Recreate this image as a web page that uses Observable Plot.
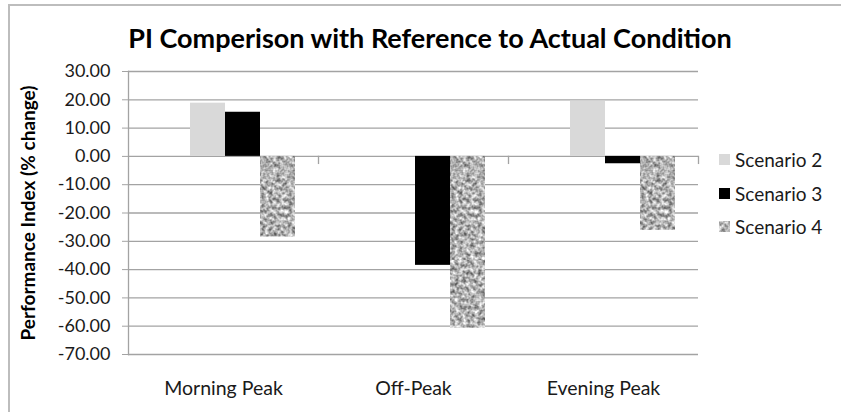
<!DOCTYPE html>
<html><head><meta charset="utf-8">
<script src="https://cdn.jsdelivr.net/npm/d3@7"></script>
<script src="https://cdn.jsdelivr.net/npm/@observablehq/plot@0.6"></script>
<style>
body{margin:0;background:#fff;font-family:Lato,sans-serif;}
#wrap{position:relative;width:841px;height:412px;overflow:hidden;background:#fff;}
#border{position:absolute;left:8px;top:4px;width:900px;height:500px;border-left:2px solid #bdbdbd;border-top:2px solid #bdbdbd;}
#title{position:absolute;left:0;top:22px;width:860px;text-align:center;font:bold 27px/32px Lato,sans-serif;color:#000;}
#chart{position:absolute;left:0;top:60px;}
#legend{position:absolute;left:719px;top:143px;font:19px Lato,sans-serif;color:#1a1a1a;}
.row{height:33.5px;display:flex;align-items:center;}
.row svg{margin-right:5px;}
</style>
</head><body>
<svg width="0" height="0" style="position:absolute">
  <defs>
    <filter id="noiseF" color-interpolation-filters="sRGB" x="0" y="0" width="100%" height="100%">
      <feTurbulence type="fractalNoise" baseFrequency="0.26" numOctaves="2" seed="7"/>
      <feColorMatrix type="matrix" values="1.05 0 0 0 0.17  1.05 0 0 0 0.17  1.05 0 0 0 0.17  0 0 0 0 1"/>
    </filter>
    <pattern id="tex" patternUnits="userSpaceOnUse" width="200" height="200">
      <rect width="200" height="200" filter="url(#noiseF)"/>
    </pattern>
  </defs>
</svg>
<div id="wrap">
  <div id="border"></div>
  <div id="title">PI Comperison with Reference to Actual Condition</div>
  <div id="chart"></div>
  <div id="legend"></div>
</div>
<script>
const categories = ["Morning Peak", "Off-Peak", "Evening Peak"];
const series = ["Scenario 2", "Scenario 3", "Scenario 4"];
const scenario2 = [18.8, 0, 19.4];
const scenario3 = [15.6, -38.5, -2.6];
const scenario4 = [-28.5, -60.7, -26.1];
const yTicks = [30, 20, 10, 0, -10, -20, -30, -40, -50, -60, -70];
const seriesColors = ["#d9d9d9", "#000000", "url(#tex)"];
const yLabel = "Performance Index (% change)";

const seriesValues = [scenario2, scenario3, scenario4];
const rows = categories.flatMap((c, i) =>
  series.map((s, j) => ({category: c, series: s, value: seriesValues[j][i]})));

const W = 841, H = 352, mt = 11, mb = 58, ml = 128, mr = 143;
const yMax = d3.max(yTicks), yMin = d3.min(yTicks);
const innerH = H - mt - mb;
const zeroOffset = (yMax - 0) * innerH / (yMax - yMin);
const gridColor = "#a3a3a3";

const plot = Plot.plot({
  width: W, height: H,
  marginTop: mt, marginBottom: mb, marginLeft: ml, marginRight: mr,
  style: {fontFamily: "Lato, sans-serif", fontSize: "19px", color: "#1a1a1a", background: "transparent"},
  fx: {domain: categories, padding: 0, label: null},
  x: {domain: series, paddingInner: 0, paddingOuter: 1.2, align: 0.724, axis: null},
  y: {domain: [yMin, yMax]},
  color: {domain: series, range: seriesColors},
  marks: [
    Plot.ruleY(yTicks, {stroke: gridColor, strokeWidth: 1.3}),
    Plot.frame({anchor: "right", stroke: gridColor, strokeWidth: 1.3, insetTop: zeroOffset, insetBottom: innerH - zeroOffset - 7}),
    Plot.frame({anchor: "left", stroke: gridColor, strokeWidth: 1.3, facet: "super"}),
    Plot.barY(rows, {fx: "category", x: "series", y: "value", fill: "series"}),
    Plot.axisY({ticks: yTicks, tickFormat: d => d.toFixed(2), tickSize: 6, tickPadding: 12, fontSize: 18, stroke: gridColor, fill: "#1a1a1a", label: null}),
    Plot.axisFx({anchor: "bottom", tickSize: 0, tickPadding: 26.5, fontSize: 19.5, fill: "#1a1a1a", label: null}),
    Plot.text([yLabel], {frameAnchor: "left", textAnchor: "middle", lineAnchor: "middle", rotate: -90, dx: -100, fontWeight: "bold", fontSize: 19, fill: "#000", facet: "super"})
  ]
});
document.getElementById("chart").appendChild(plot);

const legend = document.getElementById("legend");
series.forEach((s, i) => {
  const row = document.createElement("div");
  row.className = "row";
  row.innerHTML = `<svg width="11" height="11"><rect width="11" height="11" fill="${seriesColors[i]}"/></svg><span>${s}</span>`;
  legend.appendChild(row);
});
</script>
</body></html>
